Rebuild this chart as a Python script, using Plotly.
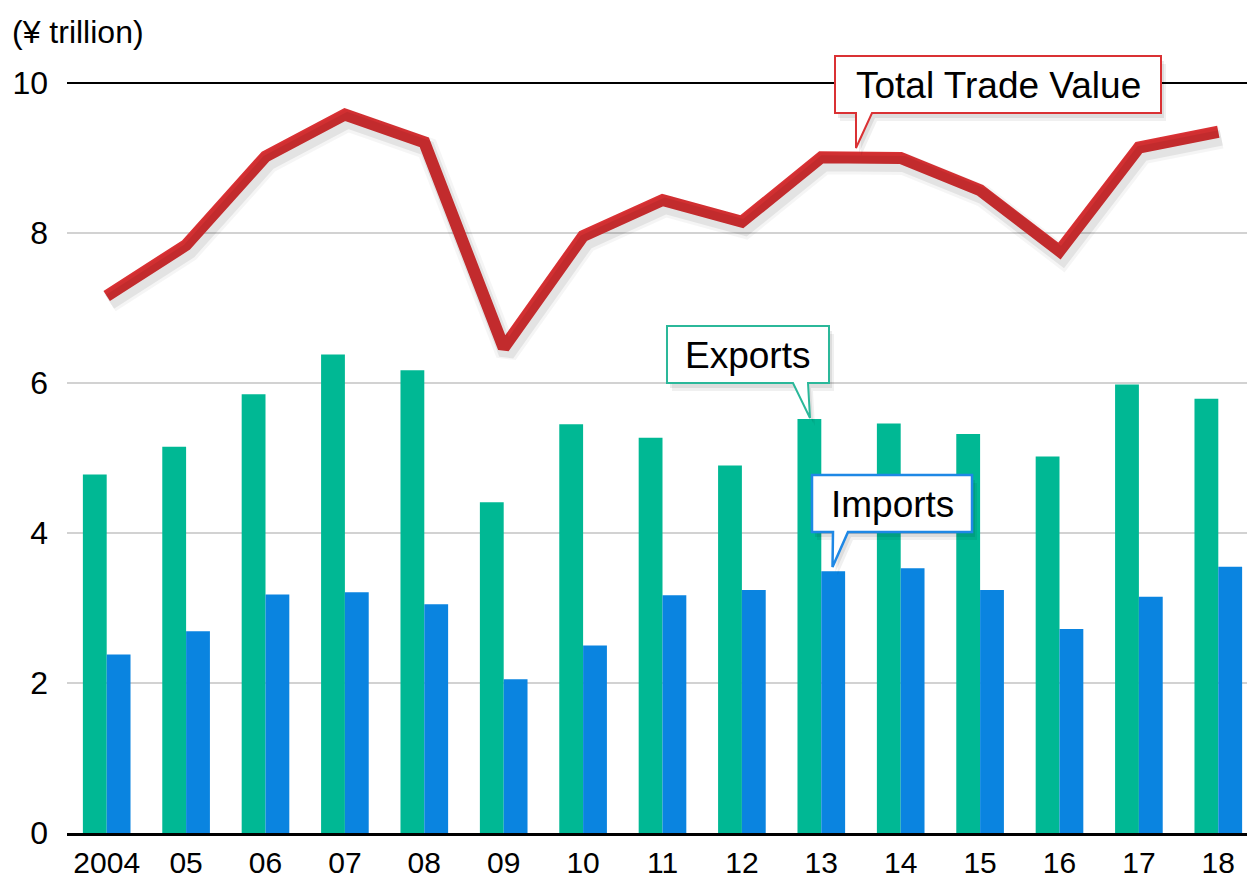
import plotly.graph_objects as go

years = ["2004", "05", "06", "07", "08", "09", "10", "11", "12", "13", "14", "15", "16", "17", "18"]
exports = [4.78, 5.15, 5.85, 6.38, 6.17, 4.41, 5.45, 5.27, 4.90, 5.52, 5.46, 5.32, 5.02, 5.98, 5.79]
imports = [2.38, 2.69, 3.18, 3.21, 3.05, 2.05, 2.50, 3.17, 3.24, 3.49, 3.53, 3.24, 2.72, 3.15, 3.55]
total = [7.16, 7.84, 9.02, 9.58, 9.21, 6.47, 7.96, 8.44, 8.15, 9.01, 9.00, 8.57, 7.76, 9.14, 9.35]
y_ticks = [0, 2, 4, 6, 8, 10]

GREEN = "#00B894"
BLUE = "#0A84E0"
RED = "#DA3134"
FONT = "Liberation Sans, Arial, Helvetica, sans-serif"

W, H = 1247, 881
ML, MR, MT, MB = 67, 0, 83, 48
PW, PH = W - ML - MR, H - MT - MB
CAT_PX = 79.4
X_FIRST_PX = 106.7
x0 = -(X_FIRST_PX - ML) / CAT_PX
x1 = x0 + PW / CAT_PX
Y_PX = PH / 10.0

xs = list(range(len(years)))

fig = go.Figure()
fig.add_trace(go.Bar(x=xs, y=exports, marker=dict(color=GREEN, line=dict(width=0)), name="Exports"))
fig.add_trace(go.Bar(x=xs, y=imports, marker=dict(color=BLUE, line=dict(width=0)), name="Imports"))

# soft shadow for the total line (same data, overlay axes shifted a few pixels)
for dx, dy, w, a in [(3, 7, 22, 0.04), (3, 6, 16, 0.07)]:
    fig.add_trace(go.Scatter(x=xs, y=total, mode="lines", xaxis="x2", yaxis="y2",
                             line=dict(color=f"rgba(0,0,0,{a})", width=w), hoverinfo="skip"))
fig.add_trace(go.Scatter(x=xs, y=total, mode="lines", line=dict(color=RED, width=12),
                         name="Total Trade Value"))

def px(xp):
    return (xp - ML) / PW

def py(yp):
    return (H - MB - yp) / PH

def bubble(L, R, T, B, tail):
    (bx1, bx2, tx, ty) = tail
    return [(L, T), (R, T), (R, B), (bx2, B), (tx, ty), (bx1, B), (L, B)]

def path_from(pts, ox=0, oy=0):
    s = ""
    for i, (a, b) in enumerate(pts):
        s += ("M" if i == 0 else "L") + f"{px(a + ox):.5f},{py(b + oy):.5f} "
    return s + "Z"

bubbles = [
    (bubble(835, 1161, 56, 113, (856, 872, 856, 148)), RED, 2, "Total Trade Value", (998, 85)),
    (bubble(667, 829, 326, 383, (793, 808, 810, 418)), "#2BB89A", 2, "Exports", (748, 355)),
    (bubble(812, 972, 475, 532, (833, 848, 832.5, 567)), "#1E88E5", 2.5, "Imports", (892, 504)),
]

shapes = []
shapes.append(dict(type="line", xref="paper", yref="paper", x0=0, x1=1, y0=1, y1=1,
                   line=dict(color="black", width=1.8), layer="above"))
annotations = []
for pts, col, bw, text, (cx, cy) in bubbles:
    shapes.append(dict(type="path", xref="paper", yref="paper", path=path_from(pts, 5, 8),
                       fillcolor="rgba(0,0,0,0.06)", line=dict(width=0), layer="above"))
    shapes.append(dict(type="path", xref="paper", yref="paper", path=path_from(pts, 3, 5),
                       fillcolor="rgba(0,0,0,0.08)", line=dict(width=0), layer="above"))
    shapes.append(dict(type="path", xref="paper", yref="paper", path=path_from(pts),
                       fillcolor="white", line=dict(color=col, width=bw), layer="above"))
    annotations.append(dict(xref="paper", yref="paper", x=px(cx), y=py(cy), text=text,
                            showarrow=False, xanchor="center", yanchor="middle",
                            font=dict(family=FONT, size=37, color="black")))

annotations.append(dict(xref="paper", yref="paper", x=px(10), y=py(32), text="(¥ trillion)",
                        showarrow=False, xanchor="left", yanchor="middle",
                        font=dict(family=FONT, size=32, color="black")))

fig.update_layout(
    width=W, height=H,
    margin=dict(l=ML, r=MR, t=MT, b=MB, pad=0, autoexpand=False),
    paper_bgcolor="white", plot_bgcolor="white",
    barmode="group", bargap=0.4, bargroupgap=0,
    showlegend=False,
    font=dict(family=FONT, size=31, color="black"),
    xaxis=dict(range=[x0, x1], tickvals=xs, ticktext=years, showgrid=False, zeroline=False,
               showline=True, linecolor="black", linewidth=2.5, ticks="", ticklabelstandoff=1,
               automargin=False, tickfont=dict(size=30, color="black")),
    yaxis=dict(range=[0, 10], tickvals=y_ticks, showgrid=True, gridcolor="#d2d2d2", gridwidth=1.8,
               zeroline=False, showline=False, ticks="", ticklabelstandoff=18,
               automargin=False, tickfont=dict(size=32, color="black")),
    xaxis2=dict(range=[x0 - 3 / CAT_PX, x1 - 3 / CAT_PX], overlaying="x", visible=False),
    yaxis2=dict(range=[6 / Y_PX, 10 + 6 / Y_PX], overlaying="y", visible=False),
    shapes=shapes,
    annotations=annotations,
)

fig.write_html(
    "out.html",
    config={"displayModeBar": False},
    post_script="document.body.style.margin='0';document.body.style.padding='0';"
                "document.documentElement.style.margin='0';",
)
